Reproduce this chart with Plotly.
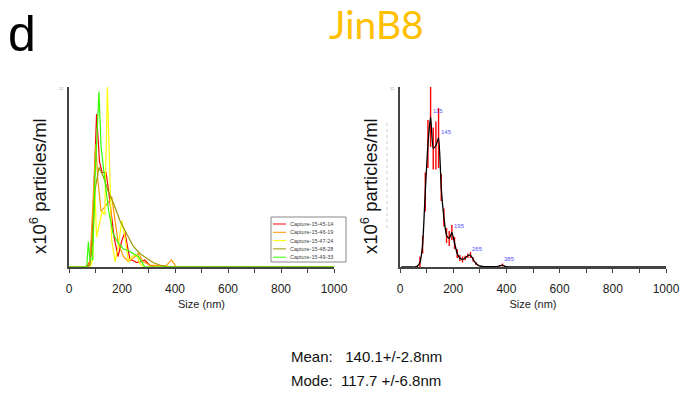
import plotly.graph_objects as go

# ---- individual captures (left panel) ----
capture_names = ["Capture-15-45-14", "Capture-15-46-19", "Capture-15-47-24",
                 "Capture-15-48-28", "Capture-15-49-33"]
capture_colors = ["#ff0000", "#ff9900", "#ffff00", "#999900", "#33ff00"]

red_x = [0, 60, 70, 80, 90, 95, 104, 110, 115, 125, 140, 150, 160, 170, 185, 200, 211,
         220, 230, 245, 255, 270, 286, 295, 305, 320, 1000]
red_y = [0, 0, 0.1, 0.4, 3.0, 6.0, 10.2, 8.5, 7.0, 6.3, 6.3, 5.0, 3.5, 2.0, 0.7, 1.8, 2.3,
         1.5, 0.5, 0.4, 0.3, 0.35, 0.47, 0.3, 0.1, 0, 0]

orange_x = [0, 73, 80, 86, 96, 101, 109, 121, 134, 148, 161, 174, 186, 205, 224, 242, 261,
            280, 305, 355, 368, 387, 405, 1000]
orange_y = [0, 0, 0.5, 2.7, 6.2, 8.2, 5.8, 3.7, 4.0, 4.3, 4.7, 3.1, 1.6, 0.7, 0.36, 0.58, 0.9,
            0.36, 0.13, 0.07, 0.1, 0.47, 0, 0]

yellow_x = [0, 80, 90, 97, 104, 115, 125, 135, 145, 155, 161, 174, 186, 199, 211, 224, 236,
            255, 267, 280, 1000]
yellow_y = [0, 0, 0.5, 5.5, 2.0, 3.0, 3.7, 3.5, 12.0, 5.5, 1.8, 0.36, 1.4, 3.1, 2.0, 0.36, 0.7,
            0.8, 0.24, 0, 0]

olive_x = [0, 70, 79, 88, 98, 113, 130, 149, 167, 192, 218, 242, 267, 292, 317, 342, 368, 1000]
olive_y = [0, 0, 0.13, 1.5, 5.1, 6.65, 6.0, 5.0, 4.3, 3.1, 2.2, 1.4, 0.9, 0.58, 0.3, 0.13, 0.02, 0]

green_x = [0, 67, 73, 79, 89, 98, 113, 121, 134, 149, 167, 186, 205, 224, 242, 261, 274, 286, 1000]
green_y = [0, 0, 1.7, 0.47, 0.5, 5.8, 11.7, 8.0, 6.0, 3.8, 2.2, 1.6, 1.2, 1.1, 0.9, 0.7, 0.36, 0, 0]

capture_x = [red_x, orange_x, yellow_x, olive_x, green_x]
capture_y = [red_y, orange_y, yellow_y, olive_y, green_y]

# ---- averaged distribution (right panel), 10 nm bins ----
mean_x = [5, 15, 25, 35, 45, 55, 65, 75, 85, 95, 105, 115, 125, 135, 145, 155, 165, 175, 185,
          195, 205, 215, 225, 235, 245, 255, 265, 275, 285, 295, 305, 315, 325, 335, 345, 355,
          365, 375, 385, 395, 405, 415, 1000]
mean_y = [0, 0, 0, 0, 0, 0, 0.05, 0.3, 1.5, 5.0, 8.2, 10.0, 7.9, 8.1, 8.6, 5.3, 3.3, 2.1, 1.9,
          2.3, 1.6, 0.9, 0.6, 0.5, 0.6, 0.75, 0.8, 0.5, 0.25, 0.1, 0.05, 0.03, 0.02, 0.02, 0.02,
          0.02, 0.03, 0.08, 0.13, 0.04, 0.01, 0, 0]
mean_err = [0, 0, 0, 0, 0, 0, 0.05, 0.4, 0.6, 1.3, 1.6, 2.0, 1.4, 1.6, 2.0, 0.9, 0.6, 0.5, 0.5,
            0.5, 0.4, 0.3, 0.2, 0.2, 0.15, 0.15, 0.2, 0.15, 0.1, 0.05, 0, 0, 0, 0, 0,
            0, 0, 0.05, 0.1, 0, 0, 0, 0]
peak_sizes = [115, 145, 195, 265, 385]

x_label_ticks = [0, 200, 400, 600, 800, 1000]
x_minor_ticks = [100, 300, 500, 700, 900]

FONT = "Liberation Sans, Arial, sans-serif"
AXIS_COLOR = "#444444"

fig = go.Figure()

for name, col, xs, ys in zip(capture_names, capture_colors, capture_x, capture_y):
    fig.add_trace(go.Scatter(x=xs, y=ys, mode="lines", name=name,
                             line=dict(color=col, width=1.2), showlegend=False,
                             xaxis="x", yaxis="y"))

fig.add_trace(go.Scatter(x=mean_x, y=mean_y, mode="markers",
                         marker=dict(size=0.1, color="rgba(0,0,0,0)"),
                         error_y=dict(type="data", array=mean_err, color="#ff0000",
                                      thickness=1.4, width=0),
                         showlegend=False, xaxis="x2", yaxis="y2"))
fig.add_trace(go.Scatter(x=mean_x, y=mean_y, mode="lines",
                         line=dict(color="#000000", width=1.3, shape="spline", smoothing=0.5),
                         showlegend=False, xaxis="x2", yaxis="y2"))

# peak labels
for p in peak_sizes:
    fig.add_annotation(x=p, y=mean_y[mean_x.index(p)], xref="x2", yref="y2",
                       text=str(p), showarrow=False, xanchor="left", yanchor="bottom",
                       yshift=1, xshift=0, font=dict(size=6, color="#5555ff", family=FONT))

W, H = 693, 394
ydom = [1 - 267 / H, 1 - 87 / H]
axis_common = dict(range=[0, 1000], tickvals=x_label_ticks, ticks="outside",
                   ticklen=4, tickwidth=1, tickcolor=AXIS_COLOR, showline=True, linecolor=AXIS_COLOR,
                   minor=dict(tickvals=x_minor_ticks, ticks="outside", ticklen=4, tickwidth=1,
                              tickcolor=AXIS_COLOR, showgrid=False),
                   linewidth=1.5, showgrid=False, zeroline=False, ticklabelstandoff=6,
                   automargin=False,
                   tickfont=dict(size=12, family=FONT, color="#222"),
                   title=dict(text="Size (nm)", font=dict(size=11, family=FONT, color="#222"),
                              standoff=5))
yaxis_common = dict(range=[0, 12], showline=True, linecolor=AXIS_COLOR, linewidth=1.5,
                    showgrid=False, zeroline=False, showticklabels=False, ticks="",
                    automargin=False)

fig.update_layout(
    width=W, height=H, autosize=False,
    margin=dict(l=0, r=0, t=0, b=0, pad=0, autoexpand=False),
    paper_bgcolor="white", plot_bgcolor="white",
    xaxis=dict(domain=[69 / W, 334 / W], anchor="y", **axis_common),
    yaxis=dict(domain=ydom, anchor="x", **yaxis_common),
    xaxis2=dict(domain=[400 / W, 666 / W], anchor="y2", **axis_common),
    yaxis2=dict(domain=ydom, anchor="x2", **yaxis_common),
)

# vertical axis titles
for xp in (38 / W, 369 / W):
    fig.add_annotation(x=xp, y=1 - 186 / H, xref="paper", yref="paper",
                       text="x10<sup>6</sup> particles/ml", textangle=-90, showarrow=False,
                       xanchor="center", yanchor="middle",
                       font=dict(size=18.5, family=FONT, color="#111"))

# panel letter and title
fig.add_annotation(x=6 / W, y=1 - 34 / H, xref="paper", yref="paper", text="d",
                   showarrow=False, xanchor="left", yanchor="middle",
                   font=dict(size=50, family=FONT, color="black"))
fig.add_annotation(x=376 / W, y=1 - 24 / H, xref="paper", yref="paper", text="JinB8",
                   showarrow=False, xanchor="center", yanchor="middle",
                   font=dict(size=39, family="Lato, Open Sans, sans-serif", color="#ffc000"))

# tiny top tick labels
for xp in (66 / W, 397 / W):
    fig.add_annotation(x=xp, y=1 - 88 / H, xref="paper", yref="paper", text="12",
                       showarrow=False, xanchor="right", yanchor="middle",
                       font=dict(size=4, family=FONT, color="#999"))
fig.add_shape(type="line", xref="paper", yref="paper", x0=387 / W, x1=387 / W,
              y0=1 - 123 / H, y1=1 - 230 / H, line=dict(color="#cccccc", width=1, dash="dot"))

# legend box for the captures
lx0, lx1, ly0, ly1 = 271 / W, 346 / W, 1 - 217 / H, 1 - 262 / H
fig.add_shape(type="rect", xref="paper", yref="paper", x0=lx0, x1=lx1, y0=ly0, y1=ly1,
              line=dict(color="#888888", width=1), fillcolor="white", layer="above")
for i, (name, col) in enumerate(zip(capture_names, capture_colors)):
    yy = 1 - (224 + i * 8.3) / H
    fig.add_shape(type="line", xref="paper", yref="paper", x0=273 / W, x1=286 / W,
                  y0=yy, y1=yy, line=dict(color=col, width=1), layer="above")
    fig.add_annotation(x=288 / W, y=yy, xref="paper", yref="paper", text=name,
                       showarrow=False, xanchor="left", yanchor="middle",
                       font=dict(size=5.5, family=FONT, color="#444"))

# summary statistics
fig.add_annotation(x=289 / W, y=1 - 356 / H, xref="paper", yref="paper",
                   text="Mean:   140.1+/-2.8nm", showarrow=False, xanchor="left",
                   yanchor="middle", font=dict(size=15, family=FONT, color="#111"))
fig.add_annotation(x=289 / W, y=1 - 380 / H, xref="paper", yref="paper",
                   text="Mode:  117.7 +/-6.8nm", showarrow=False, xanchor="left",
                   yanchor="middle", font=dict(size=15, family=FONT, color="#111"))

# keep the page exactly the size of the figure (no body margin, no scrollbars)
page_fix = ("document.body.style.margin='0';document.body.style.overflow='hidden';"
            "var gd=document.getElementById('{plot_id}');"
            "Plotly.relayout(gd,{width:%d,height:%d});" % (W, H))
fig.write_html("out.html", config={"responsive": False}, post_script=page_fix)
